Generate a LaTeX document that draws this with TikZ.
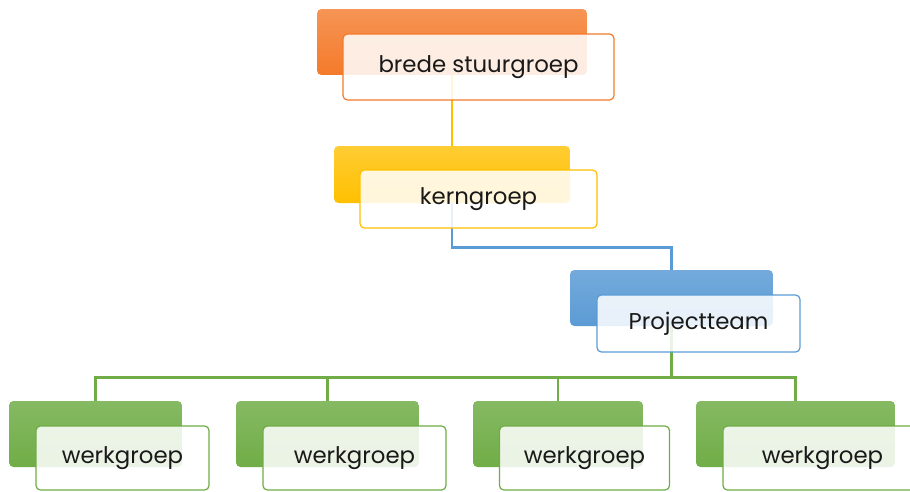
\documentclass[tikz,border=0pt]{standalone}
\usepackage{fontspec}
\setmainfont{Poppins}
\tikzset{
    achter/.style={rounded corners=2.5pt,inner sep=0pt},
    voor/.style={rounded corners=2.5pt,inner sep=0pt,fill=white,fill opacity=0.86,text opacity=1,
        line width=0.7pt,text=black!90,font=\fontsize{13}{15}\selectfont},
    oranje/.style={top color=orange1!80!white,bottom color=orange1},
    geel/.style={top color=geel1!80!white,bottom color=geel1},
    blauw/.style={top color=blauw1!85!white,bottom color=blauw1},
    groen/.style={top color=groen1!85!white,bottom color=groen1},
    lijn/.style={line width=1.4pt},
}
\definecolor{orange1}{HTML}{F47A2A}
\definecolor{geel1}{HTML}{FFC000}
\definecolor{blauw1}{HTML}{5B9BD5}
\definecolor{groen1}{HTML}{70AD47}
\begin{document}
\begin{tikzpicture}[x=0.02cm,y=-0.02cm]
    \useasboundingbox (0,0) rectangle (910,491);
    \node[achter,oranje,minimum width=5.4cm,minimum height=1.32cm] (stuur) at (452,42) {};
    \node[achter,geel,minimum width=4.72cm,minimum height=1.14cm] (kern) at (452,174.5) {};
    \node[achter,blauw,minimum width=4.06cm,minimum height=1.12cm] (proj) at (671.5,298) {};
    \node[achter,groen,minimum width=3.46cm,minimum height=1.32cm] (werk1) at (95.5,434) {};
    \node[achter,groen,minimum width=3.66cm,minimum height=1.32cm] (werk2) at (327.5,434) {};
    \node[achter,groen,minimum width=3.4cm,minimum height=1.32cm] (werk3) at (558,434) {};
    \node[achter,groen,minimum width=3.98cm,minimum height=1.32cm] (werk4) at (795.5,434) {};
    \draw[lijn,geel1] (stuur.south) -- (kern.north);
    \draw[lijn,blauw1] (kern.south) -- ++(0,44) -| (proj.north);
    \foreach \w in {werk1,werk2,werk3,werk4}
        \draw[lijn,groen1] (proj.south) -- ++(0,51) -| (\w.north);
    \node[voor,draw=orange1,minimum width=5.42cm,minimum height=1.32cm] at (478.5,67) {brede stuurgroep};
    \node[voor,draw=geel1,minimum width=4.74cm,minimum height=1.16cm] at (478.5,199) {kerngroep};
    \node[voor,draw=blauw1,minimum width=4.06cm,minimum height=1.14cm] at (698.5,323.5) {Projectteam};
    \node[voor,draw=groen1,minimum width=3.46cm,minimum height=1.28cm] at (122.5,458) {werkgroep};
    \node[voor,draw=groen1,minimum width=3.66cm,minimum height=1.28cm] at (354.5,458) {werkgroep};
    \node[voor,draw=groen1,minimum width=3.4cm,minimum height=1.28cm] at (584.5,458) {werkgroep};
    \node[voor,draw=groen1,minimum width=3.98cm,minimum height=1.28cm] at (822.5,458) {werkgroep};
\end{tikzpicture}
\end{document}
